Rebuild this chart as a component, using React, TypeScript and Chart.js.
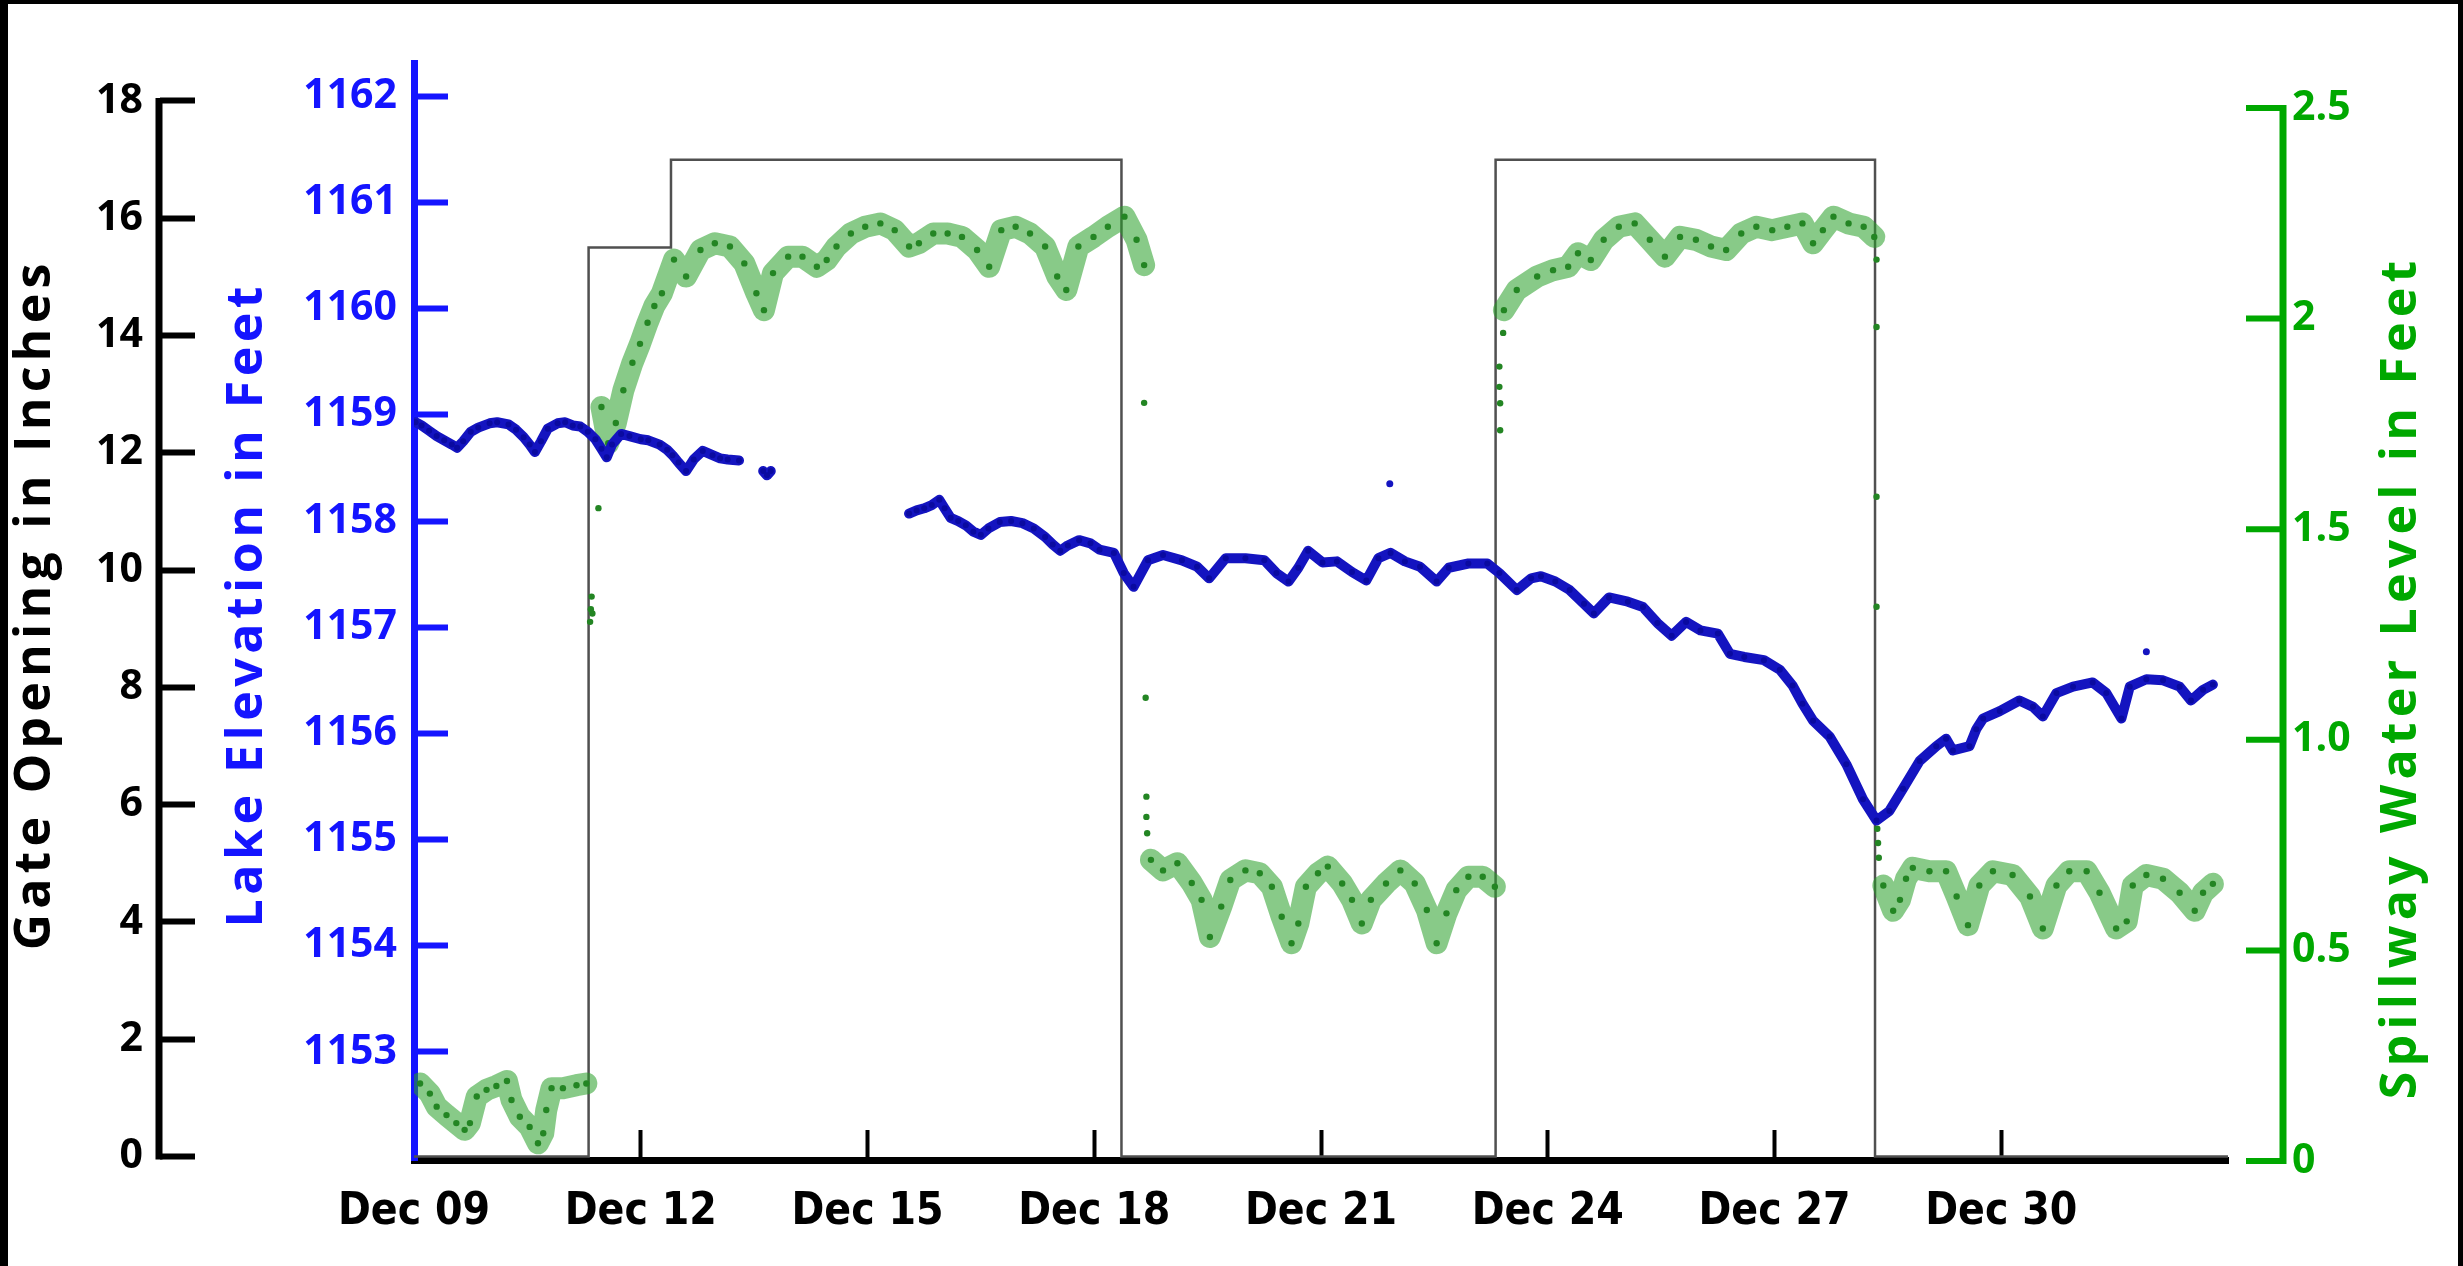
import React, { useEffect, useRef } from 'react';
import { Chart, registerables } from 'chart.js';

Chart.register(...registerables);

// ---------- tick values / labels ----------
const dayTicks = [0, 3, 6, 9, 12, 15, 18, 21]; // days since Dec 09 00:00
const dayTickLabels = ['Dec 09', 'Dec 12', 'Dec 15', 'Dec 18', 'Dec 21', 'Dec 24', 'Dec 27', 'Dec 30'];
const gateTicks = [0, 2, 4, 6, 8, 10, 12, 14, 16, 18];
const lakeTicks = [1153, 1154, 1155, 1156, 1157, 1158, 1159, 1160, 1161, 1162];
const spillTicks = [0, 0.5, 1, 1.5, 2, 2.5];
const spillTickLabels = ['0', '0.5', '1.0', '1.5', '2', '2.5'];

// ---------- gate opening (inches), step changes ----------
const gateDay = [0, 2.31, 3.4, 9.36, 14.31, 19.33, 24.0];
const gateInches = [0, 15.5, 17, 0, 17, 0, 0];

// ---------- lake elevation (feet) ----------
const lakeDay = [
  0.02, 0.1, 0.2, 0.3, 0.4, 0.5, 0.57, 0.65, 0.75, 0.85, 1.0, 1.1, 1.25, 1.35, 1.45, 1.53, 1.6, 1.68, 1.77, 1.9,
  2.0, 2.1, 2.2, 2.3, 2.4, 2.48, 2.55, 2.62, 2.74, 2.85, 3.0, 3.1, 3.25, 3.35, 3.42, 3.5, 3.6, 3.7, 3.82, 3.95,
  4.05, 4.15, 4.3,
  4.45,
  4.62, 4.67, 4.72,
  4.8,
  6.55, 6.65, 6.75, 6.85, 6.95, 7.02, 7.1, 7.2, 7.3, 7.4, 7.5, 7.6, 7.75, 7.9, 8.05, 8.2, 8.35, 8.45, 8.55, 8.65,
  8.8, 8.95, 9.07, 9.26, 9.39, 9.52, 9.71, 9.91, 10.16, 10.36, 10.52, 10.74, 11.0, 11.25, 11.41, 11.57, 11.7, 11.83,
  12.02, 12.21, 12.41, 12.6, 12.76, 12.92, 13.11, 13.31, 13.53, 13.69, 13.95, 14.2, 14.36, 14.59, 14.78, 14.91,
  15.1, 15.29, 15.48, 15.61, 15.81, 16.06, 16.26, 16.45, 16.64, 16.83, 17.02, 17.25, 17.41, 17.6, 17.86, 18.07,
  18.24, 18.37, 18.51, 18.73, 18.95, 19.17, 19.35, 19.52, 19.7, 19.92, 20.14, 20.27, 20.36, 20.58, 20.67, 20.76,
  20.98, 21.24, 21.42, 21.55, 21.73, 21.95, 22.21, 22.39, 22.59, 22.7, 22.92, 23.14, 23.36, 23.51, 23.67, 23.8,
];
const lakeFeet = [
  1158.93, 1158.9, 1158.85, 1158.8, 1158.76, 1158.72, 1158.69, 1158.75, 1158.84, 1158.88, 1158.92, 1158.93, 1158.91,
  1158.86, 1158.79, 1158.72, 1158.65, 1158.75, 1158.87, 1158.92, 1158.93, 1158.9, 1158.89, 1158.84, 1158.77, 1158.68,
  1158.6, 1158.72, 1158.82, 1158.8, 1158.77, 1158.76, 1158.72, 1158.67, 1158.62, 1158.55, 1158.47, 1158.58, 1158.66,
  1158.62, 1158.59, 1158.58, 1158.57,
  null,
  1158.47, 1158.43, 1158.47,
  null,
  1158.07, 1158.1, 1158.12, 1158.15, 1158.2, 1158.12, 1158.03, 1158.0, 1157.96, 1157.9, 1157.87, 1157.93, 1157.99,
  1158.0, 1157.98, 1157.93, 1157.85, 1157.78, 1157.72, 1157.77, 1157.82, 1157.79, 1157.73, 1157.7, 1157.51, 1157.38,
  1157.63, 1157.68, 1157.63, 1157.57, 1157.46, 1157.65, 1157.65, 1157.63, 1157.51, 1157.43, 1157.56, 1157.72,
  1157.61, 1157.62, 1157.52, 1157.44, 1157.65, 1157.7, 1157.62, 1157.57, 1157.43, 1157.56, 1157.6, 1157.6, 1157.51,
  1157.35, 1157.46, 1157.48, 1157.43, 1157.35, 1157.22, 1157.13, 1157.28, 1157.24, 1157.19, 1157.04, 1156.92,
  1157.05, 1156.97, 1156.94, 1156.75, 1156.72, 1156.69, 1156.6, 1156.45, 1156.28, 1156.12, 1155.97, 1155.71,
  1155.38, 1155.18, 1155.27, 1155.48, 1155.74, 1155.88, 1155.95, 1155.84, 1155.88, 1156.04, 1156.14, 1156.21,
  1156.31, 1156.25, 1156.16, 1156.38, 1156.44, 1156.48, 1156.38, 1156.14, 1156.44, 1156.51, 1156.5, 1156.44,
  1156.31, 1156.41, 1156.46,
];
const lakeStrayDay = [12.91, 22.92];
const lakeStrayFeet = [1158.35, 1156.77];

// ---------- spillway water level (feet) ----------
const spillDay = [
  0.08, 0.21, 0.3, 0.43, 0.56, 0.67, 0.74, 0.83, 0.96, 1.09, 1.23, 1.29, 1.4, 1.53, 1.64, 1.71, 1.75, 1.82, 1.97,
  2.15, 2.28,
  2.38,
  2.48, 2.57, 2.67, 2.77, 2.89, 2.99, 3.09, 3.18, 3.28, 3.44, 3.6, 3.79, 3.98, 4.18, 4.37, 4.53, 4.63, 4.75, 4.95,
  5.14, 5.33, 5.46, 5.59, 5.78, 5.97, 6.17, 6.36, 6.55, 6.68, 6.87, 7.06, 7.25, 7.45, 7.61, 7.77, 7.96, 8.15, 8.35,
  8.51, 8.63, 8.79, 8.99, 9.18, 9.4, 9.56, 9.66,
  9.7,
  9.75, 9.91, 10.1, 10.29, 10.42, 10.53, 10.68, 10.8, 11.0, 11.19, 11.35, 11.48, 11.61, 11.7, 11.8, 11.96, 12.09,
  12.28, 12.41, 12.54, 12.66, 12.86, 13.05, 13.24, 13.4, 13.53, 13.66, 13.79, 13.95, 14.14, 14.3,
  14.38,
  14.42, 14.59, 14.86, 15.07, 15.27, 15.4, 15.57, 15.74, 15.94, 16.15, 16.35, 16.55, 16.75, 16.96, 17.16, 17.36,
  17.56, 17.76, 17.97, 18.17, 18.37, 18.51, 18.64, 18.78, 18.98, 19.18, 19.32,
  19.38,
  19.44, 19.57, 19.66, 19.74, 19.83, 20.05, 20.27, 20.41, 20.56, 20.71, 20.89, 21.15, 21.38, 21.55, 21.73, 21.9,
  22.13, 22.3, 22.52, 22.66, 22.74, 22.92, 23.14, 23.36, 23.56, 23.67, 23.8,
];
const spillFeet = [
  0.184, 0.16, 0.129, 0.109, 0.09, 0.074, 0.09, 0.153, 0.169, 0.178, 0.19, 0.145, 0.105, 0.081, 0.042, 0.066, 0.121,
  0.173, 0.173, 0.18, 0.184,
  null,
  1.79, 1.704, 1.752, 1.83, 1.895, 1.94, 1.99, 2.03, 2.06, 2.14, 2.1, 2.163, 2.179, 2.171, 2.131, 2.06, 2.02, 2.108,
  2.147, 2.147, 2.123, 2.139, 2.171, 2.202, 2.218, 2.226, 2.21, 2.171, 2.179, 2.202, 2.202, 2.194, 2.163, 2.123,
  2.21, 2.218, 2.202, 2.171, 2.1, 2.068, 2.171, 2.194, 2.218, 2.242, 2.187, 2.127,
  null,
  0.715, 0.69, 0.707, 0.66, 0.62, 0.532, 0.604, 0.667, 0.69, 0.683, 0.651, 0.58, 0.517, 0.564, 0.651, 0.683, 0.699,
  0.659, 0.62, 0.564, 0.62, 0.659, 0.69, 0.659, 0.596, 0.517, 0.588, 0.643, 0.675, 0.675, 0.651,
  null,
  2.02, 2.068, 2.1, 2.115, 2.123, 2.155, 2.139, 2.187, 2.218, 2.226, 2.187, 2.147, 2.194, 2.187, 2.171, 2.163, 2.202,
  2.218, 2.21, 2.218, 2.226, 2.179, 2.21, 2.242, 2.226, 2.218, 2.194,
  null,
  0.654, 0.594, 0.62, 0.67, 0.696, 0.688, 0.688, 0.628, 0.56, 0.654, 0.688, 0.679, 0.628, 0.552, 0.654, 0.688, 0.688,
  0.637, 0.552, 0.569, 0.654, 0.679, 0.67, 0.637, 0.594, 0.637, 0.658,
];
const spillStrayDay = [
  2.33, 2.34, 2.35, 2.36, 2.44, 9.66, 9.68, 9.69, 9.69, 9.7, 14.36, 14.36, 14.37, 14.37, 14.41, 19.35, 19.35, 19.35,
  19.35, 19.36, 19.37, 19.38,
];
const spillStrayFeet = [
  1.28, 1.31, 1.34, 1.3, 1.55, 1.8, 1.1, 0.865, 0.817, 0.778, 1.886, 1.838, 1.799, 1.735, 1.966, 2.14, 1.98, 1.577,
  1.316, 0.789, 0.755, 0.72,
];

// ---------- titles ----------
const gateTitle = 'Gate Opening in Inches';
const lakeTitle = 'Lake Elevation in Feet';
const spillTitle = 'Spillway Water Level in Feet';

const BLUE = '#1414ff';
const GREEN = '#00a800';
const NUM_FONT = '"Open Sans", "DejaVu Sans", sans-serif';
const NARROW_FONT = '"DejaVu Sans Condensed", "Liberation Sans Narrow", "Liberation Sans", sans-serif';

const toPoints = (xs: number[], ys: (number | null)[]) => xs.map((x, i) => ({ x, y: ys[i] }));

function drawVTitle(ctx: CanvasRenderingContext2D, text: string, x: number, y: number, color: string, font: string, spacing: number) {
  ctx.save();
  ctx.translate(x, y);
  ctx.rotate(-Math.PI / 2);
  ctx.font = font;
  (ctx as any).letterSpacing = spacing + 'px';
  ctx.fillStyle = color;
  ctx.textAlign = 'center';
  ctx.textBaseline = 'middle';
  ctx.fillText(text, spacing / 2, 0);
  ctx.restore();
}

const decorPlugin = {
  id: 'decor',
  beforeDraw(chart: any) {
    const { ctx, width, height } = chart;
    ctx.save();
    ctx.fillStyle = '#ffffff';
    ctx.fillRect(0, 0, width, height);
    ctx.restore();
  },
  afterDraw(chart: any) {
    const { ctx, width, height } = chart;
    const gate = chart.scales.gate;
    const spill = chart.scales.spill;
    ctx.save();
    // gate axis line (0 .. 18)
    ctx.strokeStyle = '#000';
    ctx.lineWidth = 7;
    ctx.beginPath();
    const gx = gate.right - 1;
    ctx.moveTo(gx, gate.getPixelForValue(gateTicks[0]) + 3);
    ctx.lineTo(gx, gate.getPixelForValue(gateTicks[gateTicks.length - 1]) - 3);
    ctx.stroke();
    // spillway axis line (0 .. 2.5) and its inward ticks
    const sx = spill.left + 55;
    ctx.strokeStyle = GREEN;
    ctx.beginPath();
    ctx.moveTo(sx, spill.getPixelForValue(spillTicks[0]) + 3);
    ctx.lineTo(sx, spill.getPixelForValue(spillTicks[spillTicks.length - 1]) - 3);
    ctx.stroke();
    ctx.lineWidth = 6;
    spillTicks.forEach((v) => {
      const y = spill.getPixelForValue(v);
      ctx.beginPath();
      ctx.moveTo(sx - 37, y);
      ctx.lineTo(sx, y);
      ctx.stroke();
    });
    ctx.restore();

    drawVTitle(ctx, gateTitle, 36, 607, '#000', `bold 50px ${NUM_FONT}`, 5.2);
    drawVTitle(ctx, lakeTitle, 248, 607, BLUE, `bold 50px ${NUM_FONT}`, 4.5);
    drawVTitle(ctx, spillTitle, 2402, 680, GREEN, `bold 50px ${NUM_FONT}`, 5.2);

    // outer black frame (left, top, right edges)
    ctx.save();
    ctx.fillStyle = '#000';
    ctx.fillRect(0, 0, width, 4);
    ctx.fillRect(0, 0, 8, height);
    ctx.fillRect(width - 5, 0, 5, height);
    ctx.restore();
  },
};

export default function App() {
  const canvasRef = useRef<HTMLCanvasElement | null>(null);

  useEffect(() => {
    const canvas = canvasRef.current;
    if (!canvas) return;
    const chart = new Chart(canvas, {
      type: 'line',
      data: {
        datasets: [
          {
            label: 'Lake Elevation',
            data: toPoints(lakeDay, lakeFeet),
            yAxisID: 'lake',
            xAxisID: 'x',
            borderColor: '#1414c0',
            borderWidth: 10,
            borderJoinStyle: 'round',
            borderCapStyle: 'round',
            pointRadius: 3,
            pointBorderWidth: 0,
            pointBackgroundColor: '#0a0aa0',
            spanGaps: false,
            tension: 0,
            order: 1,
          },
          {
            label: 'Lake stray',
            data: toPoints(lakeStrayDay, lakeStrayFeet),
            yAxisID: 'lake',
            xAxisID: 'x',
            showLine: false,
            pointRadius: 3.5,
            pointBorderWidth: 0,
            pointBackgroundColor: '#1414c0',
            order: 1,
          },
          {
            label: 'Spillway Water Level',
            data: toPoints(spillDay, spillFeet),
            yAxisID: 'spill',
            xAxisID: 'x',
            borderColor: 'rgba(38,158,38,0.55)',
            borderWidth: 22,
            borderJoinStyle: 'round',
            borderCapStyle: 'round',
            pointRadius: 3.2,
            pointBorderWidth: 0,
            pointBackgroundColor: '#238523',
            spanGaps: false,
            tension: 0,
            order: 2,
          },
          {
            label: 'Spill stray',
            data: toPoints(spillStrayDay, spillStrayFeet),
            yAxisID: 'spill',
            xAxisID: 'x',
            showLine: false,
            pointRadius: 3.2,
            pointBorderWidth: 0,
            pointBackgroundColor: '#238523',
            order: 2,
          },
          {
            label: 'Gate Opening',
            data: toPoints(gateDay, gateInches),
            yAxisID: 'gate',
            xAxisID: 'x',
            stepped: true,
            borderColor: '#505050',
            borderWidth: 2.5,
            pointRadius: 0,
            order: 3,
          },
        ],
      },
      options: {
        responsive: false,
        devicePixelRatio: 1,
        animation: false,
        events: [],
        layout: { padding: { top: 63, left: 0, right: 0, bottom: 0 } },
        plugins: { legend: { display: false }, tooltip: { enabled: false }, title: { display: false } },
        scales: {
          x: {
            type: 'linear',
            position: 'bottom',
            min: 0,
            max: 24,
            z: 1,
            afterBuildTicks: (s: any) => {
              s.ticks = dayTicks.map((v) => ({ value: v }));
            },
            afterFit: (s: any) => {
              s.height = 106;
              s.paddingLeft = 0;
              s.paddingRight = 0;
            },
            ticks: {
              autoSkip: false,
              maxRotation: 0,
              minRotation: 0,
              padding: 56,
              color: '#000',
              font: { family: NARROW_FONT, size: 44, weight: 'bold' },
              callback: (_v: any, i: number) => dayTickLabels[i],
            },
            grid: {
              drawOnChartArea: false,
              tickLength: -30,
              tickWidth: 4,
              color: (c: any) => (c.tick && c.tick.value === 0 ? 'rgba(0,0,0,0)' : '#000'),
            },
            border: { display: true, color: '#000', width: 7 },
          },
          gate: {
            type: 'linear',
            position: 'left',
            weight: 2,
            min: -0.06,
            max: 18.648,
            afterBuildTicks: (s: any) => {
              s.ticks = gateTicks.map((v) => ({ value: v }));
            },
            afterFit: (s: any) => {
              s.width = 160;
              s.paddingTop = 0;
              s.paddingBottom = 0;
            },
            ticks: {
              padding: 52,
              color: '#000',
              font: { family: NUM_FONT, size: 41, weight: 'bold' },
              callback: (v: any) => String(v),
            },
            grid: { drawOnChartArea: false, tickLength: -35, tickWidth: 6, color: '#000' },
            border: { display: false },
          },
          lake: {
            type: 'linear',
            position: 'left',
            weight: 1,
            min: 1151.983,
            max: 1162.313,
            afterBuildTicks: (s: any) => {
              s.ticks = lakeTicks.map((v) => ({ value: v }));
            },
            afterFit: (s: any) => {
              s.width = 254;
              s.paddingTop = 0;
              s.paddingBottom = 0;
            },
            ticks: {
              padding: 51,
              color: BLUE,
              font: { family: NUM_FONT, size: 41, weight: 'bold' },
              callback: (v: any) => String(v),
            },
            grid: { drawOnChartArea: false, tickLength: -34, tickWidth: 6, color: BLUE },
            border: { display: true, color: BLUE, width: 7 },
          },
          spill: {
            type: 'linear',
            position: 'right',
            weight: 1,
            min: 0.0024,
            max: 2.6068,
            afterBuildTicks: (s: any) => {
              s.ticks = spillTicks.map((v) => ({ value: v }));
            },
            afterFit: (s: any) => {
              s.width = 235;
              s.paddingTop = 0;
              s.paddingBottom = 0;
            },
            ticks: {
              padding: 64,
              color: GREEN,
              font: { family: NUM_FONT, size: 41, weight: 'bold' },
              callback: (_v: any, i: number) => spillTickLabels[i],
            },
            grid: { display: false, drawTicks: false, drawOnChartArea: false },
            border: { display: false },
          },
        },
      } as any,
      plugins: [decorPlugin],
    });
    return () => chart.destroy();
  }, []);

  return (
    <div style={{ position: 'fixed', left: 0, top: 0, width: 2463, height: 1266, background: '#fff' }}>
      <canvas ref={canvasRef} width={2463} height={1266} style={{ display: 'block', width: 2463, height: 1266 }} />
    </div>
  );
}
